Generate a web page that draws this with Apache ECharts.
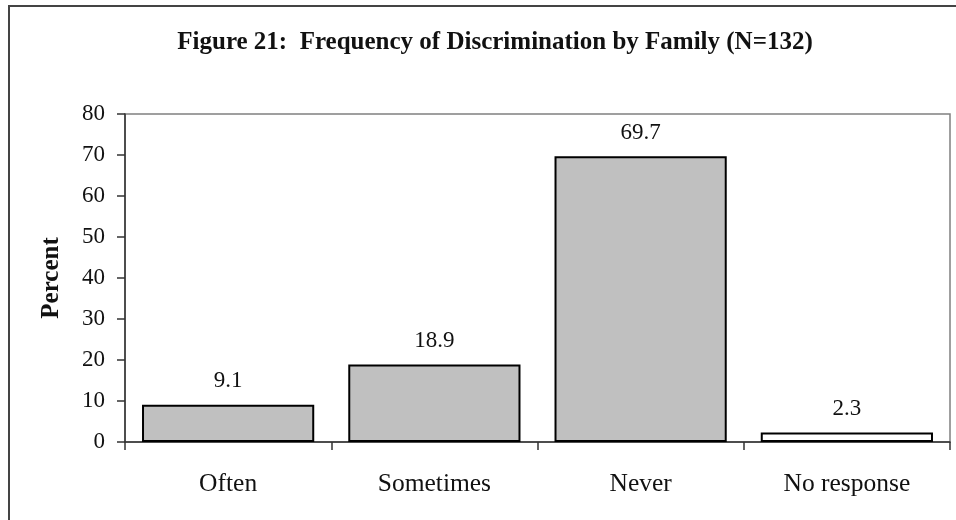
<!DOCTYPE html>
<html>
<head>
<meta charset="utf-8">
<script src="https://cdn.jsdelivr.net/npm/echarts@6/dist/echarts.min.js"></script>
<style>
  html, body { margin: 0; padding: 0; background: #fff; }
  #chart { width: 956px; height: 520px; }
</style>
</head>
<body>
<div id="chart"></div>
<script>
// Frequency of discrimination by family, percent of respondents
const categories = ['Often', 'Sometimes', 'Never', 'No response'];
const percents = [9.1, 18.9, 69.7, 2.3];
const fills = ['#c0c0c0', '#c0c0c0', '#c0c0c0', '#ffffff'];
const yTicks = { min: 0, max: 80, interval: 10 };

const serif = '"Liberation Serif", "DejaVu Serif", serif';

const chart = echarts.init(document.getElementById('chart'), null, { renderer: 'canvas' });

chart.setOption({
  animation: false,
  backgroundColor: '#ffffff',
  title: {
    text: 'Figure 21:  Frequency of Discrimination by Family (N=132)',
    left: 490,
    textAlign: 'center',
    top: 25,
    textStyle: { fontFamily: serif, fontWeight: 'bold', fontSize: 25, color: '#111' }
  },
  graphic: [
    {
      type: 'rect',
      shape: { x: 9, y: 6, width: 960, height: 530 },
      style: { fill: 'none', stroke: '#444', lineWidth: 2 },
      silent: true,
      z: -1
    }
  ],
  grid: { left: 125, right: 6, top: 114, bottom: 78, show: true, borderColor: '#808080', borderWidth: 1.5, backgroundColor: 'transparent' },
  xAxis: {
    type: 'category',
    data: categories,
    axisLine: { lineStyle: { color: '#333', width: 1.5 } },
    axisTick: { show: true, length: 8, lineStyle: { color: '#333', width: 1.5 } },
    axisLabel: { margin: 29, fontFamily: serif, fontSize: 25.5, color: '#111' }
  },
  yAxis: {
    type: 'value',
    min: yTicks.min,
    max: yTicks.max,
    interval: yTicks.interval,
    name: 'Percent',
    nameLocation: 'middle',
    nameGap: 61,
    nameRotate: 90,
    nameTextStyle: { fontFamily: serif, fontWeight: 'bold', fontSize: 25, color: '#111' },
    axisLine: { show: true, lineStyle: { color: '#333', width: 1.5 } },
    axisTick: { show: true, length: 8, lineStyle: { color: '#333', width: 1.5 } },
    axisLabel: { margin: 20, fontFamily: serif, fontSize: 23, color: '#111' },
    splitLine: { show: false }
  },
  series: [{
    type: 'bar',
    data: percents.map((v, i) => ({ value: v, itemStyle: { color: fills[i] } })),
    barCategoryGap: '16.5%',
    itemStyle: { borderColor: '#000', borderWidth: 2 },
    label: {
      show: true,
      position: 'top',
      distance: 12,
      fontFamily: serif,
      fontSize: 23,
      color: '#111'
    }
  }]
});
</script>
</body>
</html>
